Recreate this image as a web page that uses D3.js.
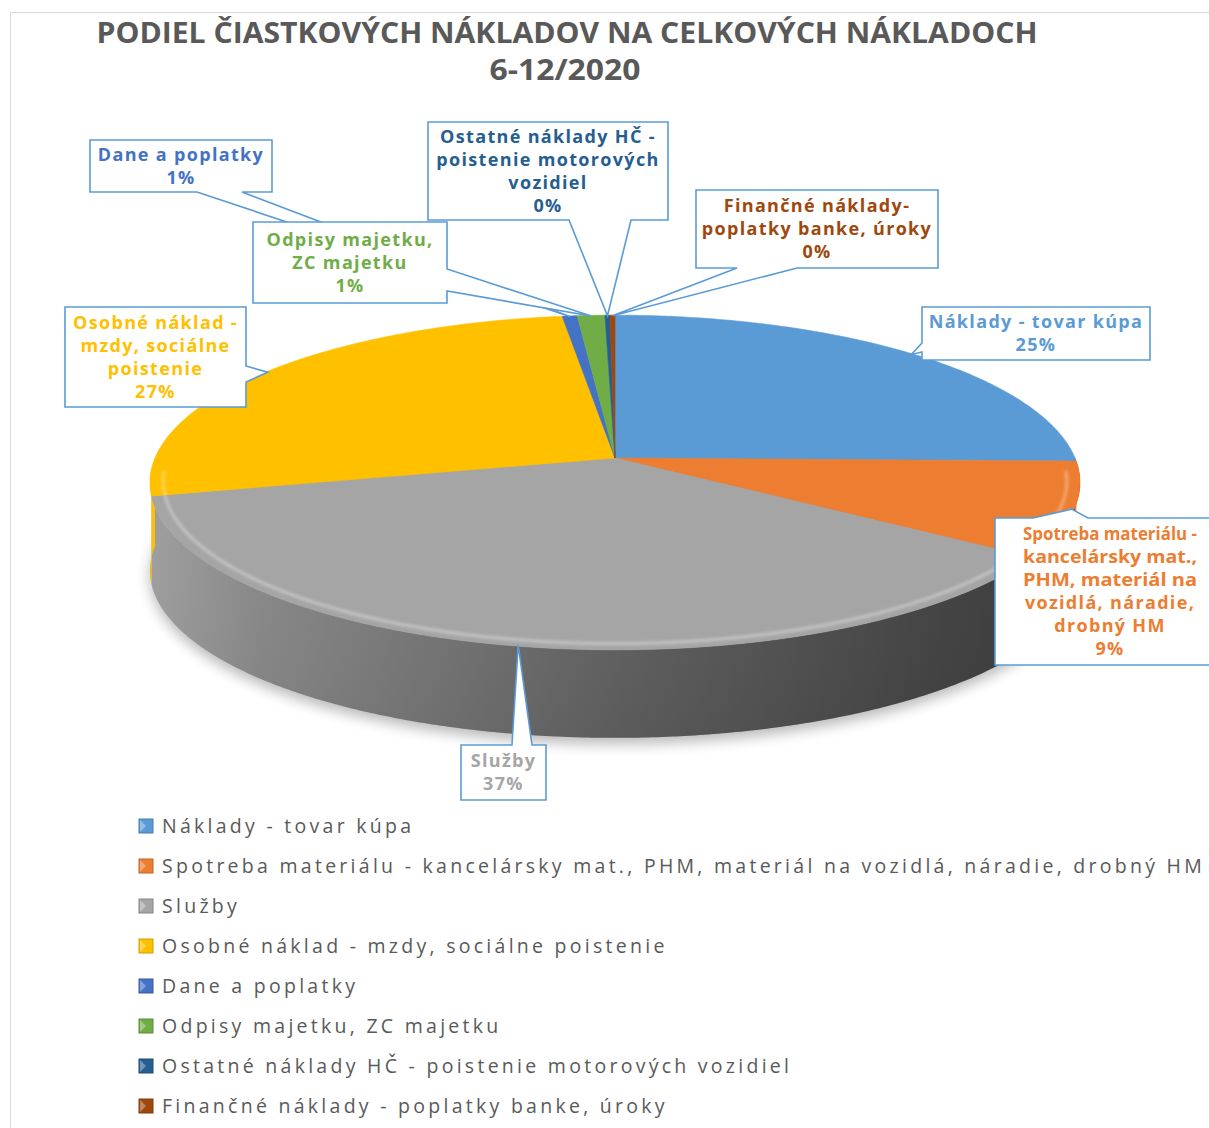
<!DOCTYPE html>
<html><head><meta charset="utf-8">
<script src="https://cdn.jsdelivr.net/npm/d3@7"></script>
<style>body{margin:0;background:#fff} svg{display:block}</style>
</head><body>
<svg id="c" width="1209" height="1128"></svg>
<script>
// ---------- DATA ----------
const categories = [
  "Náklady - tovar kúpa",
  "Spotreba materiálu - kancelársky mat., PHM, materiál na vozidlá, náradie, drobný HM",
  "Služby",
  "Osobné náklad - mzdy, sociálne poistenie",
  "Dane a poplatky",
  "Odpisy majetku, ZC majetku",
  "Ostatné náklady HČ - poistenie motorových vozidiel",
  "Finančné náklady - poplatky banke, úroky"
];
const values = [25.3, 9.1, 37.0, 26.5, 0.6, 1.1, 0.2, 0.2];
const colors = ["#5B9BD5", "#ED7D31", "#A5A5A5", "#FFC000", "#4472C4", "#70AD47", "#255E91", "#9E480E"];
const labelLines = [
  ["Náklady - tovar kúpa"],
  ["Spotreba materiálu -", "kancelársky mat.,", "PHM, materiál na", "vozidlá, náradie,", "drobný HM"],
  ["Služby"],
  ["Osobné náklad -", "mzdy, sociálne", "poistenie"],
  ["Dane a poplatky"],
  ["Odpisy majetku,", "ZC majetku"],
  ["Ostatné náklady HČ -", "poistenie motorových", "vozidiel"],
  ["Finančné náklady-", "poplatky banke, úroky"]
];
const titleLines = ["PODIEL ČIASTKOVÝCH NÁKLADOV NA CELKOVÝCH NÁKLADOCH", "6-12/2020"];

// ---------- LAYOUT ----------
const W = 1209, H = 1128;
const geom = {cx: 615, cy: 458, k: 460, persp: 0.1464, tilt: 0.356, depth: 88};
// callout boxes (annotation layout): series index, box, side carrying the wedge, wedge base along that side
const callouts = [
  {i: 4, x: 90,  y: 140, w: 182, h: 52,  side: "bottom", b: [197, 242]},
  {i: 5, x: 253, y: 222, w: 194, h: 81,  side: "right",  b: [269, 291]},
  {i: 6, x: 428, y: 122, w: 240, h: 98,  side: "bottom", b: [569, 631]},
  {i: 7, x: 696, y: 190, w: 242, h: 78,  side: "bottom", b: [737, 797]},
  {i: 0, x: 922, y: 307, w: 228, h: 53,  side: "left",   b: [343, 352]},
  {i: 1, x: 995, y: 518, w: 230, h: 147, side: "top",    b: [1033, 1088]},
  {i: 2, x: 461, y: 745, w: 85,  h: 55,  side: "top",    b: [512, 532]},
  {i: 3, x: 65,  y: 307, w: 181, h: 100, side: "right",  b: [366, 382]}
];
const legendLayout = {x: 139, textX: 162, y0: 826, step: 40, size: 14, targetWidth: 1040};

// ---------- DRAW ----------
const svg = d3.select("#c");
const defs = svg.append("defs");

// chart area border
svg.append("rect").attr("x", 10.5).attr("y", 12.5).attr("width", 1230).attr("height", 1140)
  .attr("fill", "none").attr("stroke", "#d9d9d9").attr("stroke-width", 1);

// title
const title = svg.append("g").attr("font-family", "'Open Sans', sans-serif").attr("font-weight", 700)
  .attr("font-size", 28).attr("fill", "#595959").attr("text-anchor", "middle");
title.append("text").attr("x", 567).attr("y", 43).attr("textLength", 941)
  .attr("lengthAdjust", "spacingAndGlyphs").text(titleLines[0]);
title.append("text").attr("x", 565).attr("y", 80).attr("textLength", 151)
  .attr("lengthAdjust", "spacingAndGlyphs").text(titleLines[1]);

// pie angles
const total = d3.sum(values);
const pie = d3.pie().sort(null).value(d => d).startAngle(0).endAngle(2 * Math.PI);
const arcs = pie(values);
const pct = d3.format(".0%");

// perspective projection of a point on the pie's top disc (angle clockwise from back)
function proj(theta, r = 1, dy = 0) {
  const X = r * Math.sin(theta), Z = -r * Math.cos(theta);
  const den = 1 - Z * geom.persp;
  return [geom.cx + geom.k * X / den, geom.cy + geom.k * geom.tilt * Z / den + dy];
}
function arcPts(a0, a1, r = 1, dy = 0) {
  const n = Math.max(2, Math.ceil(Math.abs(a1 - a0) / (Math.PI / 360)));
  return d3.range(n + 1).map(j => proj(a0 + (a1 - a0) * j / n, r, dy));
}
const line = d3.line();

// shadow
const blur = defs.append("filter").attr("id", "blur").attr("x", "-20%").attr("y", "-20%").attr("width", "140%").attr("height", "140%");
blur.append("feGaussianBlur").attr("stdDeviation", 7);
const blur2 = defs.append("filter").attr("id", "blur2").attr("x", "-10%").attr("y", "-10%").attr("width", "120%").attr("height", "120%");
blur2.append("feGaussianBlur").attr("stdDeviation", 1.5);
svg.append("path").attr("d", line(arcPts(0, 2 * Math.PI, 1.0, geom.depth + 6)) + "Z")
  .attr("fill", "#000").attr("opacity", 0.28).attr("filter", "url(#blur)");

// side shading gradient
const sg = defs.append("linearGradient").attr("id", "sideShade").attr("gradientUnits", "userSpaceOnUse")
  .attr("x1", 150).attr("x2", 1085).attr("y1", 0).attr("y2", 0);
[[0, 0.04], [0.12, 0.18], [0.5, 0.42], [0.85, 0.6], [1, 0.66]].forEach(([o, a]) =>
  sg.append("stop").attr("offset", o).attr("stop-color", "#000").attr("stop-opacity", a));
const vg = defs.append("linearGradient").attr("id", "rimShade").attr("x1", 0).attr("x2", 0).attr("y1", 0).attr("y2", 1);
[[0, "#fff", 0.0], [0.04, "#fff", 0.25], [0.12, "#fff", 0.0], [1, "#000", 0.05]].forEach(([o, c, a]) =>
  vg.append("stop").attr("offset", o).attr("stop-color", c).attr("stop-opacity", a));

// side walls (front half only)
const lo = Math.PI / 2, hi = 3 * Math.PI / 2;
function sidePath(a0, a1) {
  const top = arcPts(a0, a1, 1, 0);
  const bot = arcPts(a1, a0, 1, geom.depth);
  return line(top.concat(bot)) + "Z";
}
const sides = svg.append("g");
arcs.forEach((a, i) => {
  const s = Math.max(a.startAngle, lo), e = Math.min(a.endAngle, hi);
  if (e > s) sides.append("path").attr("d", sidePath(s, e)).attr("fill", colors[i]);
});
sides.append("path").attr("d", sidePath(lo, hi)).attr("fill", "url(#sideShade)");
sides.append("path").attr("d", sidePath(lo, hi)).attr("fill", "url(#rimShade)");

// top faces
const tops = svg.append("g");
arcs.forEach((a, i) => {
  const pts = [[geom.cx, geom.cy]].concat(arcPts(a.startAngle, a.endAngle));
  tops.append("path").attr("d", line(pts) + "Z").attr("fill", colors[i])
    .attr("stroke", colors[i]).attr("stroke-width", 0.6);
});
// bevel highlight near front rim
tops.append("path").attr("d", line(arcPts(lo + 0.08, hi - 0.08, 0.972)))
  .attr("fill", "none").attr("stroke", "#fff").attr("stroke-opacity", 0.35).attr("stroke-width", 3)
  .attr("filter", "url(#blur2)");

// callouts
const labelFont = "'Open Sans', sans-serif";
const labelSize = 18;
const cg = svg.append("g");
function calloutPath(c, tip) {
  const x0 = c.x, y0 = c.y, x1 = c.x + c.w, y1 = c.y + c.h;
  let p;
  if (c.side === "bottom") p = [[x0, y0], [x1, y0], [x1, y1], [c.b[1], y1], tip, [c.b[0], y1], [x0, y1]];
  else if (c.side === "top") p = [[x0, y0], [c.b[0], y0], tip, [c.b[1], y0], [x1, y0], [x1, y1], [x0, y1]];
  else if (c.side === "right") p = [[x0, y0], [x1, y0], [x1, c.b[0]], tip, [x1, c.b[1]], [x1, y1], [x0, y1]];
  else p = [[x0, y0], [x1, y0], [x1, y1], [x0, y1], [x0, c.b[1]], tip, [x0, c.b[0]]];
  return line(p) + "Z";
}
// letter spacing so that "poistenie motorových" spans ~222px
const lprobe = svg.append("text").attr("font-family", labelFont).attr("font-weight", 700).attr("font-size", labelSize).text("poistenie motorových");
const lw = lprobe.node().getComputedTextLength(); lprobe.remove();
const lls = (222 - lw) / 19;
callouts.forEach(c => {
  const a = arcs[c.i];
  const tip = proj((a.startAngle + a.endAngle) / 2, 0.995);
  cg.append("path").attr("d", calloutPath(c, tip)).attr("fill", "#fff")
    .attr("stroke", "#5B9BD5").attr("stroke-width", 1.6).attr("stroke-linejoin", "miter");
  const lines = labelLines[c.i].concat([pct(values[c.i] / total)]);
  const lh = 23;
  const first = c.y + (c.h - lines.length * lh) / 2 + 17.5;
  const t = cg.append("text").attr("font-family", labelFont).attr("font-weight", 700)
    .attr("font-size", labelSize).attr("fill", colors[c.i]).attr("text-anchor", "middle")
    .attr("letter-spacing", lls.toFixed(2));
  const cx = c.x + c.w / 2;
  lines.forEach((l, j) => {
    const ts = t.append("tspan").attr("x", cx).attr("y", first + j * lh).text(l);
    const w = ts.node().getComputedTextLength();
    const limit = W - 12;
    if (cx + w / 2 > limit) {
      ts.attr("text-anchor", "end").attr("x", limit).attr("letter-spacing", 0)
        .attr("textLength", 2 * (limit - cx)).attr("lengthAdjust", "spacingAndGlyphs");
    }
  });
});

// legend
const lg = svg.append("g").attr("font-family", "'Open Sans', sans-serif").attr("font-size", 19.5).attr("fill", "#595959");
const probe = lg.append("text").text(categories[1]);
const natural = probe.node().getComputedTextLength(); probe.remove();
const ls = (legendLayout.targetWidth - natural) / (categories[1].length - 1);
categories.forEach((name, i) => {
  const y = legendLayout.y0 + i * legendLayout.step;
  const s = legendLayout.size;
  lg.append("rect").attr("x", legendLayout.x).attr("y", y - s / 2).attr("width", s).attr("height", s)
    .attr("fill", colors[i]).attr("stroke", d3.color(colors[i]).darker(0.6)).attr("stroke-width", 1);
  lg.append("path").attr("d", `M${legendLayout.x + 1},${y - s / 2 + 1}L${legendLayout.x + s / 2},${y}L${legendLayout.x + 1},${y + s / 2 - 1}Z`)
    .attr("fill", "#fff").attr("opacity", 0.35);
  lg.append("text").attr("x", legendLayout.textX).attr("y", y + 7).attr("letter-spacing", ls.toFixed(2)).text(name);
});
</script>
</body></html>
